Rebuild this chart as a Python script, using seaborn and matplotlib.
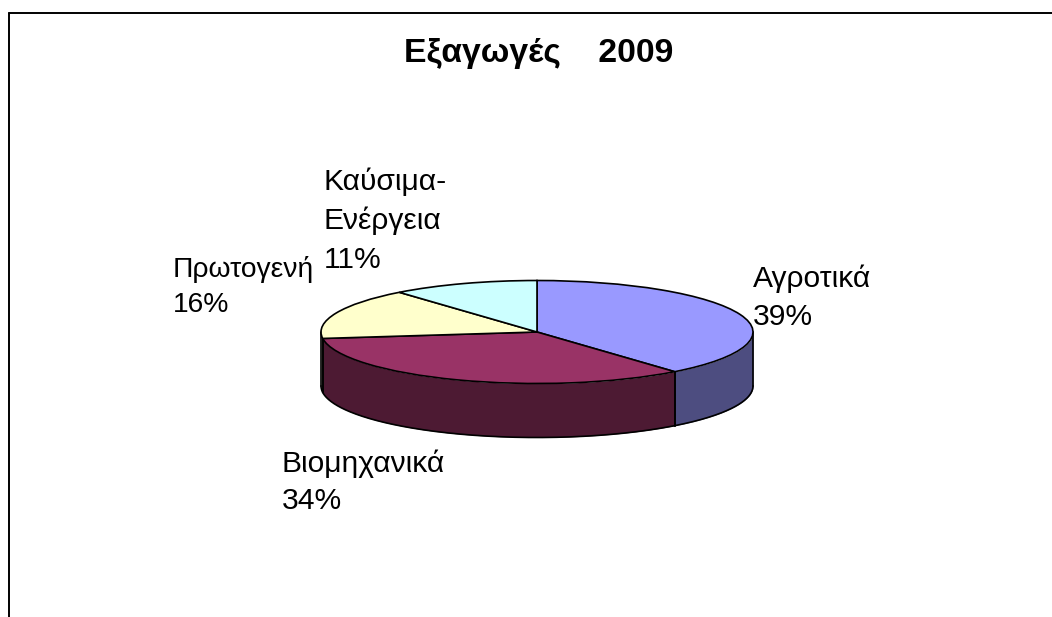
"""Exports 2009 pie, drawn as a squashed disc with a side wall."""

import matplotlib.pyplot as plt
import numpy as np
import seaborn as sns

sns.set_theme(style="white")
plt.rcParams["font.family"] = ["Liberation Sans", "DejaVu Sans"]

categories = ["Αγροτικά", "Βιομηχανικά", "Πρωτογενή", "Καύσιμα-\nΕνέργεια"]
shares = [39, 34, 16, 11]
top_colors = ["#9999FF", "#993366", "#FFFFCC", "#CCFFFF"]
side_colors = ["#4D4D80", "#4D1A33", "#80805F", "#668080"]
title = "Εξαγωγές    2009"

W, H = 1052, 617
CX, CY, RX, RY, DEPTH = 537, 332, 216, 51.5, 54
# left edge and one baseline per text line, in pixels from the top
LABEL_X = [753, 282, 173, 324]
LABEL_BASE = [[287, 325], [472, 509], [277, 312], [190, 229, 268]]
LABEL_SIZE = [21.6, 21.6, 20.3, 21.6]

fig = plt.figure(figsize=(W / 100, H / 100), dpi=100)
ax = fig.add_axes([0, 0, 1, 1])

# side wall, only the front half of the rim shows
depth = DEPTH / RY
edges = 90 - np.cumsum([0] + shares) * 3.6
for start, end, col in zip(edges[:-1], edges[1:], side_colors):
    lo, hi = max(end, -180), min(start, 0)
    if lo >= hi:
        continue
    t = np.radians(np.linspace(lo, hi, 200))
    x, y = np.cos(t), np.sin(t)
    ax.fill_between(x, y - depth, y, color=col, lw=0, zorder=1)
    ax.plot(x, y - depth, color="black", lw=1.2, zorder=2)
    ax.plot([x[0], x[0]], [y[0], y[0] - depth], color="black", lw=1.2, zorder=2)
    ax.plot([x[-1], x[-1]], [y[-1], y[-1] - depth], color="black", lw=1.2, zorder=2)

wedges, _ = ax.pie(shares, colors=sns.color_palette(top_colors), startangle=90,
                   counterclock=False, radius=1,
                   wedgeprops={"edgecolor": "black", "linewidth": 1.2, "zorder": 3})

ax.set_aspect("auto")
ax.set_xlim(-CX / RX, (W - CX) / RX)
ax.set_ylim((CY - H) / RY, CY / RY)
ax.axis("off")

# labels and title sit at fixed pixel spots
for name, val, px, bases, size in zip(categories, shares, LABEL_X, LABEL_BASE, LABEL_SIZE):
    lines = f"{name}\n{val}%".split("\n")
    for line, py in zip(lines, bases):
        fig.text(px / W, 1 - py / H, line, fontsize=size, color="black",
                 ha="left", va="baseline")
fig.text(539 / W, 1 - 62 / H, title, fontsize=24.3, fontweight="bold", color="black",
         ha="center", va="baseline")

# chart frame, cut off on the right and the bottom
fig.add_artist(plt.Line2D([9 / W, 9 / W], [0, 1 - 13 / H], color="black", lw=1.4))
fig.add_artist(plt.Line2D([9 / W, 1], [1 - 13 / H, 1 - 13 / H], color="black", lw=1.4))

fig.savefig("out.png", dpi=100)
